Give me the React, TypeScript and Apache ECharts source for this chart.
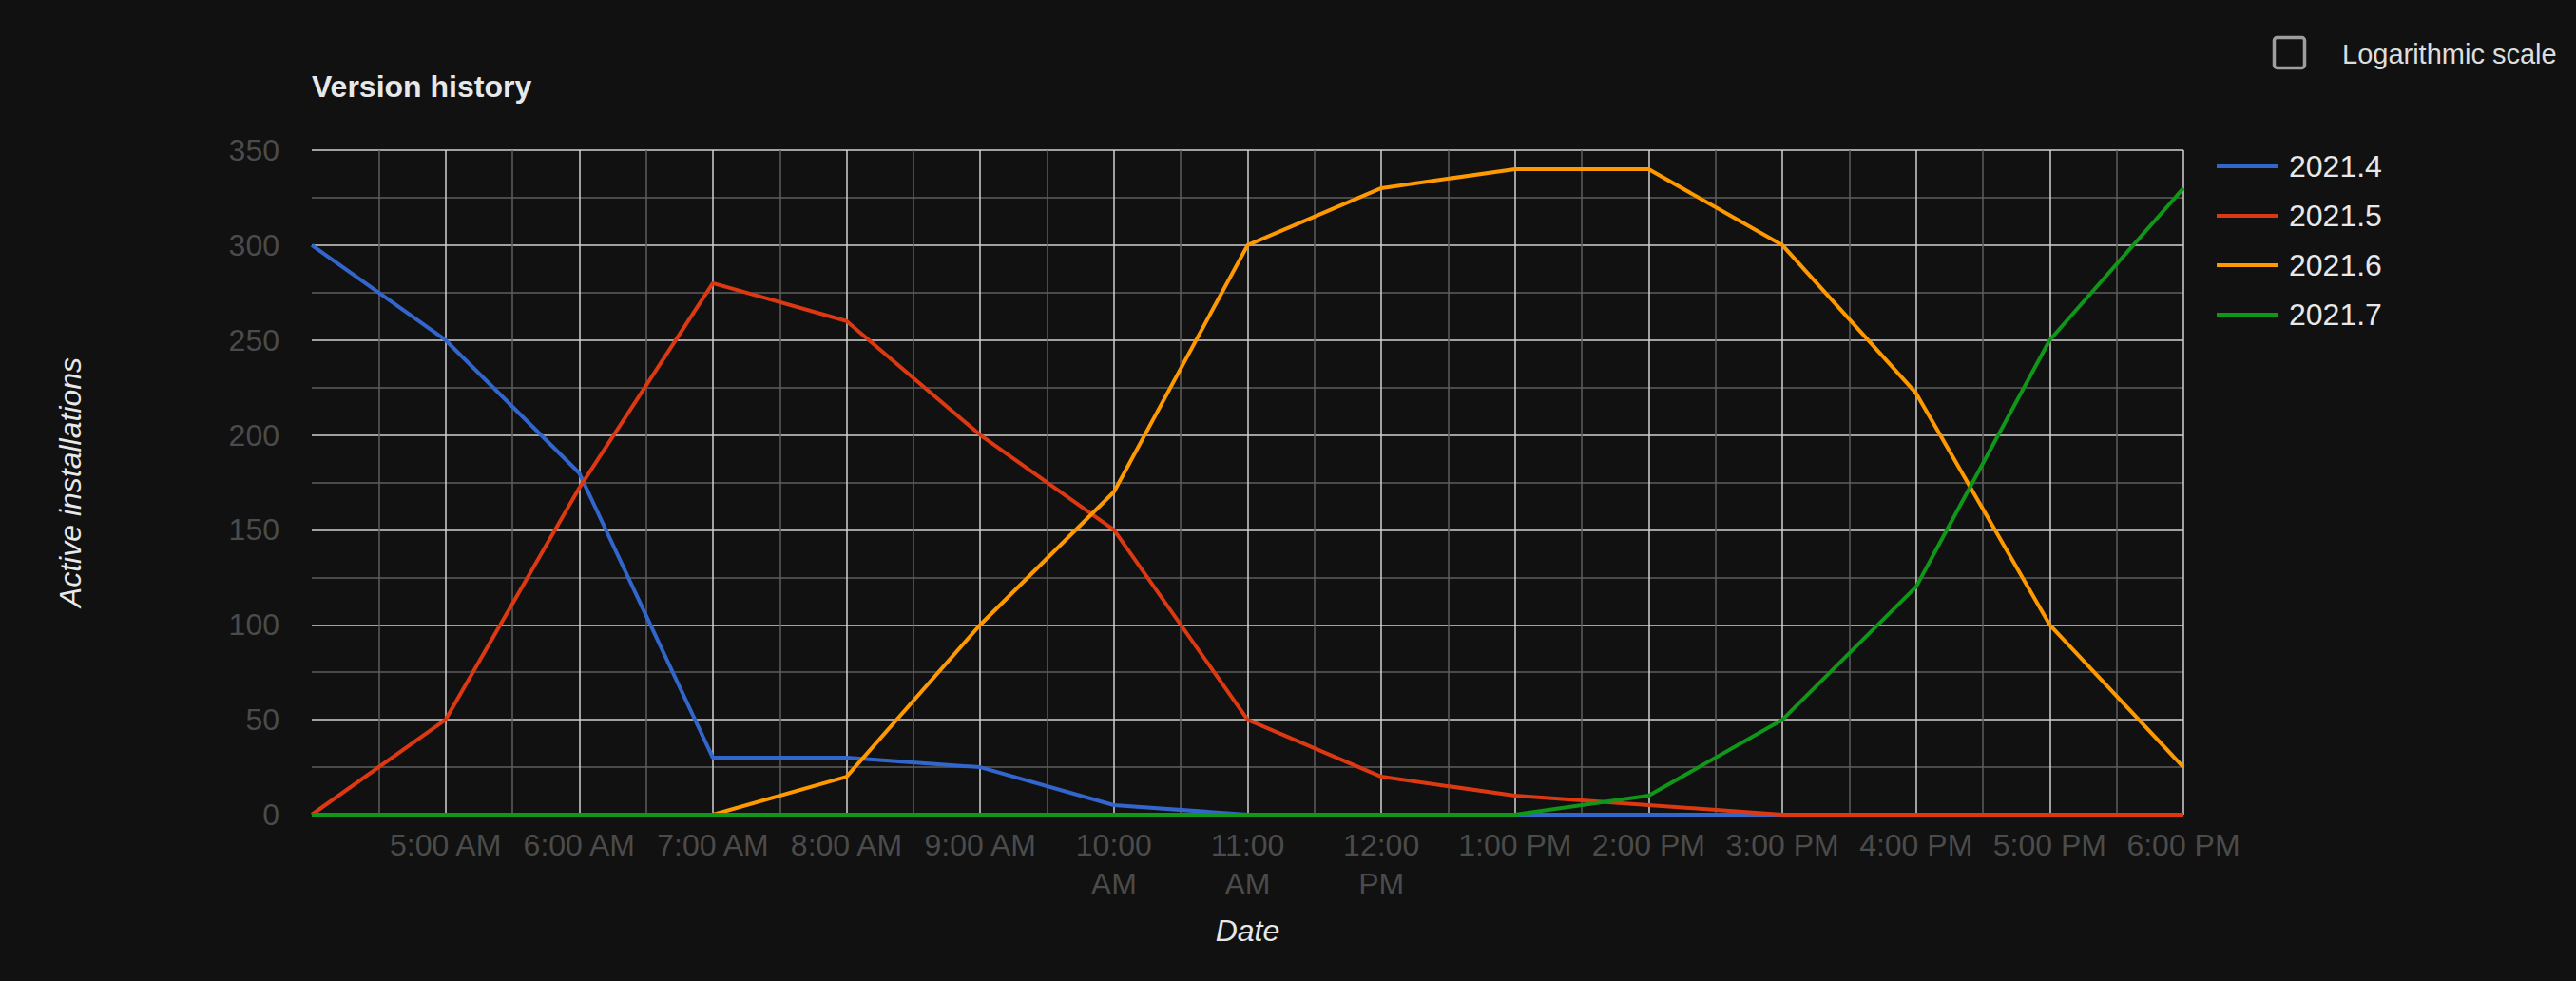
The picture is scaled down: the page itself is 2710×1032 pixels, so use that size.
import { useEffect, useRef } from "react";
import * as echarts from "echarts";

// Google-Charts style dark line chart: installs per release over one day
const HOURS = [4, 5, 6, 7, 8, 9, 10, 11, 12, 13, 14, 15, 16, 17, 18];
const TIME_LABELS = [
  "4:00 AM", "5:00 AM", "6:00 AM", "7:00 AM", "8:00 AM", "9:00 AM", "10:00 AM", "11:00 AM",
  "12:00 PM", "1:00 PM", "2:00 PM", "3:00 PM", "4:00 PM", "5:00 PM", "6:00 PM",
];
const VERSIONS = ["2021.4", "2021.5", "2021.6", "2021.7"];
const V2021_4 = [300, 250, 180, 30, 30, 25, 5, 0, 0, 0, 0, 0, 0, 0, 0];
const V2021_5 = [0, 50, 172, 280, 260, 200, 150, 50, 20, 10, 5, 0, 0, 0, 0];
const V2021_6 = [0, 0, 0, 0, 20, 100, 170, 300, 330, 340, 340, 300, 222, 100, 25];
const V2021_7 = [0, 0, 0, 0, 0, 0, 0, 0, 0, 0, 10, 50, 120, 250, 330];
const Y_TICKS = [0, 50, 100, 150, 200, 250, 300, 350];

const COLORS = ["#3366cc", "#dc3912", "#ff9900", "#109618"];
const BG = "#111111";
const LABEL = "#4b4b4b";
const TEXT = "#e8e8e8";
const MAJOR = "#d2d2d2";
const MINOR = "#5e5e5e";
const FONT = "Arial, 'Liberation Sans', sans-serif";

export default function App() {
  const ref = useRef<HTMLDivElement>(null);

  useEffect(() => {
    document.body.style.margin = "0";
    document.body.style.background = BG;
    if (!ref.current) return;
    const inst = echarts.init(ref.current, undefined, { renderer: "svg" });
    const all = [V2021_4, V2021_5, V2021_6, V2021_7];

    inst.setOption({
      backgroundColor: BG,
      animation: false,
      textStyle: { fontFamily: FONT },
      title: {
        text: "Version history",
        left: 328, top: 75, padding: 0,
        textStyle: { color: TEXT, fontSize: 32, fontWeight: "bold", fontFamily: FONT },
      },
      legend: {
        orient: "vertical",
        left: 2332, top: 159, padding: 0,
        icon: "rect",
        itemWidth: 64, itemHeight: 4,
        itemGap: 20,
        data: VERSIONS,
        textStyle: { color: TEXT, fontSize: 32, fontFamily: FONT, padding: [0, 0, 0, 7] },
      },
      grid: { left: 328, right: 413, top: 158, bottom: 175, containLabel: false },
      xAxis: {
        type: "value",
        min: HOURS[0], max: HOURS[HOURS.length - 1], interval: 1,
        name: "Date",
        nameLocation: "middle",
        nameGap: 106,
        nameTextStyle: { color: TEXT, fontSize: 32, fontStyle: "italic", fontFamily: FONT },
        axisLine: { show: false },
        axisTick: { show: false },
        axisLabel: {
          color: LABEL, fontSize: 32, lineHeight: 41, margin: 11, fontFamily: FONT,
          showMinLabel: false,
          formatter: (v: number) => {
            const s = TIME_LABELS[HOURS.indexOf(v)] ?? "";
            return s.length > 7 ? s.replace(" ", "\n") : s;
          },
        },
        splitLine: { show: true, showMinLine: false, lineStyle: { color: MAJOR, width: 1.5 } },
        minorTick: { show: false, splitNumber: 2 },
        minorSplitLine: { show: true, lineStyle: { color: MINOR, width: 1.5 } },
      },
      yAxis: {
        type: "value",
        min: Y_TICKS[0], max: Y_TICKS[Y_TICKS.length - 1], interval: 50,
        name: "Active installations",
        nameLocation: "middle",
        nameGap: 238,
        nameTextStyle: { color: TEXT, fontSize: 32, fontStyle: "italic", fontFamily: FONT },
        axisLine: { show: false },
        axisTick: { show: false },
        axisLabel: { color: LABEL, fontSize: 32, margin: 34, fontFamily: FONT },
        splitLine: { show: true, lineStyle: { color: MAJOR, width: 1.5 } },
        minorTick: { show: false, splitNumber: 2 },
        minorSplitLine: { show: true, lineStyle: { color: MINOR, width: 1.5 } },
      },
      series: VERSIONS.map((name, i) => ({
        name,
        type: "line",
        data: HOURS.map((h, k) => [h, all[i][k]]),
        showSymbol: false,
        symbol: "none",
        color: COLORS[i],
        lineStyle: { color: COLORS[i], width: 4 },
      })),
      graphic: [
        {
          type: "rect",
          shape: { x: 2392.5, y: 39.5, width: 32, height: 32, r: 3 },
          style: { fill: "none", stroke: "#9e9e9e", lineWidth: 3.5 },
        },
        {
          type: "text",
          x: 2464, y: 57,
          style: {
            text: "Logarithmic scale", fill: "#dddddd", fontSize: 29, fontFamily: FONT,
            verticalAlign: "middle", align: "left",
          },
        },
      ],
    });

    return () => inst.dispose();
  }, []);

  return <div ref={ref} style={{ width: 2710, height: 1032, background: BG }} />;
}
